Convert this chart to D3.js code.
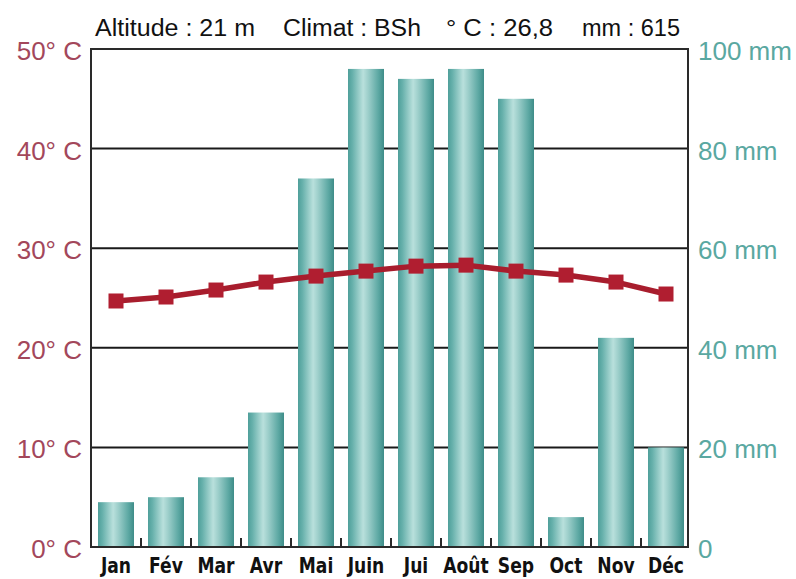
<!DOCTYPE html>
<html>
<head>
<meta charset="utf-8">
<script src="https://cdn.jsdelivr.net/npm/d3@7"></script>
<style>
  html, body { margin: 0; padding: 0; background: #fff; }
  svg { display: block; }
</style>
</head>
<body>
<svg id="chart" width="796" height="579"></svg>
<script>
const months = ["Jan", "Fév", "Mar", "Avr", "Mai", "Juin", "Jui", "Août", "Sep", "Oct", "Nov", "Déc"];
const precipitation = [9, 10, 14, 27, 74, 96, 94, 96, 90, 6, 42, 20];
const temperature = [24.7, 25.1, 25.8, 26.6, 27.2, 27.7, 28.2, 28.3, 27.7, 27.3, 26.6, 25.4];
const tempTicks = [0, 10, 20, 30, 40, 50];
const precipTicks = [0, 20, 40, 60, 80, 100];
const headerParts = ["Altitude : 21 m", "Climat : BSh", "° C : 26,8", "mm : 615"];

const svg = d3.select("#chart");
const pLeft = 91, pRight = 688, pTop = 49, pBottom = 547;

const x = d3.scaleBand().domain(months).range([pLeft, 691]).paddingInner(0.28).paddingOuter(0.14);
const yT = d3.scaleLinear().domain([0, 50]).range([pBottom, pTop]);
const yP = d3.scaleLinear().domain([0, 100]).range([pBottom, pTop]);

// gradient
const defs = svg.append("defs");
const grad = defs.append("linearGradient").attr("id", "barGrad").attr("x1", "0").attr("x2", "1").attr("y1", "0").attr("y2", "0");
[[0, "#4f9f9a"], [0.12, "#66b0ab"], [0.42, "#b9e0dc"], [0.55, "#9fd0cc"], [0.85, "#5ba7a2"], [1, "#3e8c88"]]
  .forEach(([o, c]) => grad.append("stop").attr("offset", o).attr("stop-color", c));

// grid lines
svg.append("g").selectAll("line").data(tempTicks.filter(t => t > 0 && t < 50)).join("line")
  .attr("x1", pLeft).attr("x2", pRight)
  .attr("y1", d => yT(d)).attr("y2", d => yT(d))
  .attr("stroke", "#1a1a1a").attr("stroke-width", 2);

// bars
svg.append("g").selectAll("rect").data(months).join("rect")
  .attr("x", d => x(d))
  .attr("width", x.bandwidth())
  .attr("y", (d, i) => yP(precipitation[i]))
  .attr("height", (d, i) => pBottom - yP(precipitation[i]))
  .attr("fill", "url(#barGrad)");

// x ticks between bars
const step = x.step();
svg.append("g").selectAll("line").data(months.slice(1)).join("line")
  .attr("x1", d => x(d) - (step - x.bandwidth()) / 2)
  .attr("x2", d => x(d) - (step - x.bandwidth()) / 2)
  .attr("y1", pBottom).attr("y2", pBottom - 9)
  .attr("stroke", "#2a2a2a").attr("stroke-width", 2);

// frame
svg.append("path")
  .attr("d", `M${pLeft},${pTop}H${pRight}V${pBottom}H${pLeft}Z`)
  .attr("fill", "none").attr("stroke", "#2a2a2a").attr("stroke-width", 2);

// temperature line
const line = d3.line().x((d, i) => x(months[i]) + x.bandwidth() / 2).y(d => yT(d));
svg.append("path").datum(temperature).attr("d", line)
  .attr("fill", "none").attr("stroke", "#a81d2d").attr("stroke-width", 5.5).attr("stroke-linejoin", "round");
svg.append("g").selectAll("rect").data(temperature).join("rect")
  .attr("x", (d, i) => x(months[i]) + x.bandwidth() / 2 - 7.5)
  .attr("y", d => yT(d) - 7.5)
  .attr("width", 15).attr("height", 15)
  .attr("fill", "#b01e30");

// left axis labels
svg.append("g").selectAll("text").data(tempTicks).join("text")
  .attr("x", 82).attr("y", d => yT(d) + 11)
  .attr("text-anchor", "end")
  .attr("font-family", "'Liberation Sans', Arial, sans-serif")
  .attr("font-size", 26)
  .attr("fill", "#a3475b")
  .text(d => d + "° C");

// right axis labels
svg.append("g").selectAll("text").data(precipTicks).join("text")
  .attr("x", 698).attr("y", d => yP(d) + 11)
  .attr("font-family", "'Liberation Sans', Arial, sans-serif")
  .attr("font-size", 26)
  .attr("fill", "#5aa8a1")
  .text(d => d === 0 ? "0" : d + " mm");

// month labels (condensed bold)
svg.append("g").selectAll("text").data(months).join("text")
  .attr("transform", d => `translate(${x(d) + x.bandwidth() / 2},573) scale(0.78,1)`)
  .attr("text-anchor", "middle")
  .attr("font-family", "'DejaVu Sans', sans-serif")
  .attr("font-weight", "bold")
  .attr("font-size", 22)
  .attr("fill", "#111")
  .text(d => d);

// header
const headerX = [95, 283, 446, 582];
const headerW = [160, 138, 107, 98];
svg.append("g").selectAll("text").data(headerParts).join("text")
  .attr("x", (d, i) => headerX[i])
  .attr("y", 36)
  .attr("textLength", (d, i) => headerW[i])
  .attr("lengthAdjust", "spacingAndGlyphs")
  .attr("font-family", "'Liberation Sans', Arial, sans-serif")
  .attr("font-size", 23)
  .attr("fill", "#111")
  .text(d => d);
</script>
</body>
</html>
